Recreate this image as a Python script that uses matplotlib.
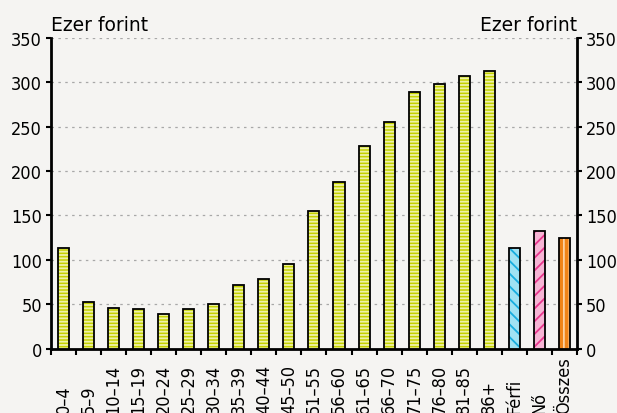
import numpy as np
import matplotlib.pyplot as plt
import matplotlib.transforms as mtransforms

# korcsoportok és átlagos érték (ezer forint)
korcsoportok = ['0\u20134', '5\u20139', '10\u201314', '15\u201319', '20\u201324', '25\u201329',
                '30\u201334', '35\u201339', '40\u201344', '45\u201350', '51\u201355', '56\u201360',
                '61\u201365', '66\u201370', '71\u201375', '76\u201380', '81\u201385', '86+']
kor_ertekek = [114, 52.5, 45.7, 45.3, 39.7, 45, 50.6, 71.6, 78.3, 95.5, 154.7, 187.3,
               227.7, 255, 289, 297.8, 307, 312.7]
nem_cimkek = ['Férfi', 'Nő', 'Összes']
nem_ertekek = [113.5, 133, 124.4]

hatter = '#f5f4f2'
plt.rcParams['hatch.linewidth'] = 1.3
plt.rcParams['font.family'] = 'DejaVu Sans'
plt.rcParams['font.stretch'] = 'condensed'

fig = plt.figure(figsize=(6.17, 4.14), dpi=100, facecolor=hatter)
ax = fig.add_axes([0.0827, 0.1546, 0.8523, 0.7524])
ax.set_facecolor(hatter)

cimkek = korcsoportok + nem_cimkek
x = np.arange(len(cimkek))
szel = 0.44
ax.set_xlim(-0.5, len(cimkek) - 0.5)
ax.set_ylim(0, 350)

def oszlop(xs, ys, alap, csik, minta):
    # kitöltés + minta, majd külön a fekete keret
    ax.bar(xs, ys, width=szel, color=alap, edgecolor=csik, hatch=minta,
           linewidth=0, zorder=3)
    ax.bar(xs, ys, width=szel, color='none', edgecolor='black',
           linewidth=1.3, zorder=4)

def ferde(xc, h, alap, csik, irany):
    # ferde csíkozás kézzel, hogy sűrűbb legyen mint a beépített '/'
    rect = ax.bar([xc], [h], width=szel, color=alap, linewidth=0, zorder=3)[0]
    bb = ax.get_position()
    px_x = fig.get_figwidth() * fig.dpi * bb.width / (len(cimkek))
    px_y = fig.get_figheight() * fig.dpi * bb.height / 350
    lepes = 12.7 / px_y
    dy = szel * px_x / px_y
    for y0 in np.arange(-dy, h + dy, lepes):
        if irany > 0:
            ys = [y0, y0 + dy]
        else:
            ys = [y0 + dy, y0]
        ln, = ax.plot([xc - szel / 2, xc + szel / 2], ys, color=csik, lw=1.3,
                      zorder=3.5, solid_capstyle='butt')
        ln.set_clip_path(rect)
    ax.bar([xc], [h], width=szel, color='none', edgecolor='black',
           linewidth=1.3, zorder=4)

oszlop(x[:len(korcsoportok)], kor_ertekek, '#c5d200', '#eef2a8', '-----')
n0 = len(korcsoportok)
ferde(x[n0], nem_ertekek[0], '#9fe2f3', '#18aee0', -1)
ferde(x[n0 + 1], nem_ertekek[1], '#f6b4d4', '#e8388e', 1)
oszlop([x[n0 + 2]], [nem_ertekek[2]], '#f08418', '#fcd0a0', '|||')

ax.set_yticks(np.arange(0, 351, 50))
for h in np.arange(50, 351, 50):
    ax.axhline(h, color='#a8a8a8', linestyle=(0, (2, 3.5)), linewidth=0.9, zorder=1)

# kategória feliratok: függőlegesen, alul egy vonalra igazítva
ax.set_xticks(x)
ax.set_xticklabels([])
ax.set_xticks(np.arange(-0.5, len(cimkek), 1), minor=True)
ax.tick_params(axis='x', which='major', length=0)
ax.tick_params(axis='x', which='minor', length=4, width=1.5, direction='out')
trans = mtransforms.blended_transform_factory(ax.transData, ax.transAxes)
for xi, c in zip(x, cimkek):
    ax.text(xi, -0.205, c, transform=trans, rotation=90, ha='center', va='bottom',
            fontsize=13)

ax.tick_params(axis='y', labelsize=13, length=3.5, width=1.5, direction='out',
               left=True, right=True, labelleft=True, labelright=True, pad=3)

for s in ['left', 'right', 'bottom']:
    ax.spines[s].set_linewidth(2)
ax.spines['top'].set_visible(False)

ax.text(0.0, 1.012, 'Ezer forint', transform=ax.transAxes, ha='left', va='bottom',
        fontsize=13.5, fontstretch='normal')
ax.text(1.0, 1.012, 'Ezer forint', transform=ax.transAxes, ha='right', va='bottom',
        fontsize=13.5, fontstretch='normal')

fig.savefig('out.png', dpi=100, facecolor=hatter)
